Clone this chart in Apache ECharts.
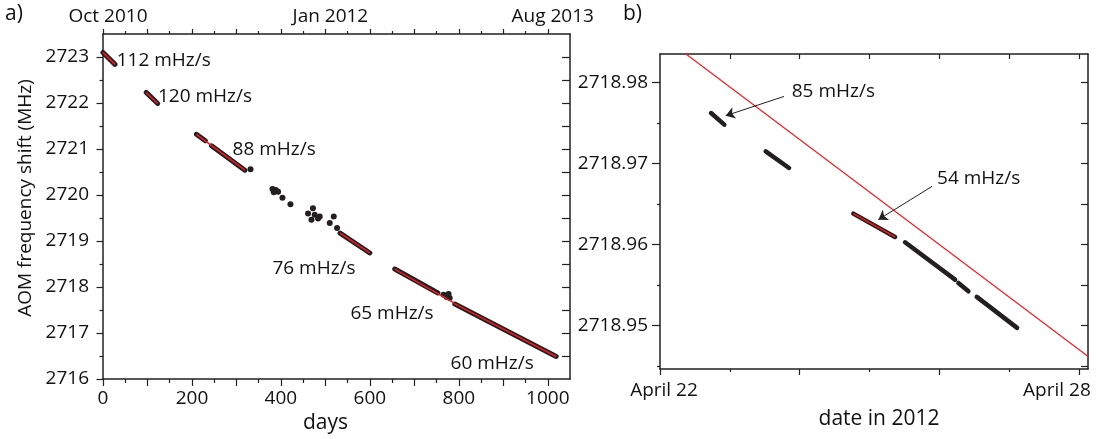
<!DOCTYPE html>
<html lang="en">
<head>
	<meta charset="UTF-8">
	<title>AOM frequency drift</title>
	<script src="https://cdn.jsdelivr.net/npm/echarts@6/dist/echarts.min.js"></script>
	<style>
		html, body{
			margin: 0;
			padding: 0;
			background: #fff;
		}
		#main{
			width: 1102px;
			height: 439px;
		}
	</style>
</head>
<body>
	<div id="main"></div>
<script>
	// ---- panel a) : whole run, days since Oct 2010 ----
	let dayTicksA = [0, 100, 200, 300, 400, 500, 600, 700, 800, 900, 1000];
	let dayMinorA = [50, 150, 250, 350, 450, 550, 650, 750, 850, 950];
	let dayLabelsA = [0, 200, 400, 600, 800, 1000];
	let topLabelDaysA = [0, 500, 1000];
	let topLabelsA = ['Oct 2010', 'Jan 2012', 'Aug 2013'];
	let freqTicksA = [2716, 2717, 2718, 2719, 2720, 2721, 2722, 2723];
	let freqMinorA = [2716.5, 2717.5, 2718.5, 2719.5, 2720.5, 2721.5, 2722.5];
	let freqAllA = [2716.5, 2717, 2717.5, 2718, 2718.5, 2719, 2719.5, 2720, 2720.5, 2721, 2721.5, 2722, 2722.5, 2723];

	// measured runs (dense points -> thick black traces)
	let runsA = [
		[[0, 2723.1], [27, 2722.84]],
		[[97, 2722.23], [123, 2721.99]],
		[[210, 2721.32], [230, 2721.18]],
		[[244, 2721.07], [319, 2720.54]],
		[[533, 2719.17], [600, 2718.74]],
		[[656, 2718.39], [753, 2717.87]],
		[[791, 2717.63], [1019, 2716.49]]
	];
	// scattered single points
	let dotsA = [
		[331.7, 2720.56],
		[381, 2720.13], [388.5, 2720.11], [384, 2720.06], [393.7, 2720.07],
		[403.5, 2719.94], [421.5, 2719.8],
		[461, 2719.6], [472, 2719.71], [476, 2719.57], [483.5, 2719.49], [468.7, 2719.46], [487.3, 2719.53],
		[509.8, 2719.39], [518.8, 2719.53], [526.2, 2719.28],
		[765.8, 2717.83], [777, 2717.85], [779.5, 2717.76], [772.5, 2717.78]
	];
	// linear fits
	let fitsA = [
		[[0, 2723.1], [27, 2722.84]],
		[[97, 2722.23], [123, 2721.99]],
		[[210, 2721.32], [319, 2720.54]],
		[[533, 2719.17], [600, 2718.74]],
		[[656, 2718.39], [790, 2717.65]],
		[[790, 2717.64], [1019, 2716.49]]
	];
	let notesA = [
		[30.8, 2722.93, '112 mHz/s'],
		[123.5, 2722.13, '120 mHz/s'],
		[291.2, 2720.98, '88 mHz/s'],
		[381, 2718.39, '76 mHz/s'],
		[556.3, 2717.42, '65 mHz/s'],
		[781.5, 2716.33, '60 mHz/s']
	];

	// ---- panel b) : days after April 22, 2012 ----
	let dayTicksB = [0, 2, 4, 6];
	let dayMinorB = [1, 3, 5];
	let dayAllB = [1, 2, 3, 4, 5, 6];
	let dateLabelDaysB = [0, 6];
	let dateLabelsB = ['April 22', 'April 28'];
	let freqTicksB = [2718.95, 2718.96, 2718.97, 2718.98];
	let freqMinorB = [2718.945, 2718.955, 2718.965, 2718.975];
	let freqAllB = [2718.945, 2718.95, 2718.955, 2718.96, 2718.965, 2718.97, 2718.975, 2718.98];

	let runsB = [
		[[0.731, 2718.97622], [0.921, 2718.97478]],
		[[1.514, 2718.97148], [1.848, 2718.96943]],
		[[2.769, 2718.96379], [3.367, 2718.96091]],
		[[3.510, 2718.96025], [4.226, 2718.95564]],
		[[4.274, 2718.95523], [4.417, 2718.95420]],
		[[4.537, 2718.95351], [5.115, 2718.94968]]
	];
	let fitB = [[2.769, 2718.96379], [3.367, 2718.96091]];
	let driftB = [[0.372, 2718.98351], [6.128, 2718.94617]];
	let arrowsB = [
		[[1.777, 2718.97827], [0.941, 2718.97589]],
		[[3.897, 2718.96716], [3.127, 2718.96305]]
	];
	let notesB = [
		[1.887, 2718.97889, '85 mHz/s'],
		[3.968, 2718.96807, '54 mHz/s']
	];

	let ink = '#231f20';
	let text = '#111';
	let red = '#ed1c24';
	let font = 'Open Sans';
	let rangeXA = [0, 1050], rangeYA = [2716, 2723.5];
	let rangeXB = [0, 6.13], rangeYB = [2718.9446, 2718.98351];

	// one axis = one set of ticks (major / minor kept on separate axes)
	function mk(grid, pos, range, ticks, len, inside, line, labels, fmt, margin){
		return {
			type: 'value',
			gridIndex: grid,
			position: pos,
			min: range[0],
			max: range[1],
			splitLine: {show: false},
			axisLine: {show: line, onZero: false, lineStyle: {color: ink, width: 1.5}},
			axisTick: {show: true, customValues: ticks, length: len, inside: inside, lineStyle: {color: ink, width: 1.2}},
			axisLabel: {
				show: !!labels,
				customValues: labels || [],
				margin: margin || 8,
				formatter: fmt,
				color: text,
				fontFamily: font,
				fontSize: 19
			}
		};
	}

	let xAxes = [
		mk(0, 'bottom', rangeXA, dayTicksA, 7, false, true, dayLabelsA, v => String(v), 10),
		mk(0, 'bottom', rangeXA, dayMinorA, 4, false, false),
		mk(0, 'top', rangeXA, dayTicksA, 5, false, true, topLabelDaysA, v => topLabelsA[topLabelDaysA.indexOf(v)], 8),
		mk(0, 'top', rangeXA, dayMinorA, 3, false, false),
		mk(1, 'bottom', rangeXB, dayTicksB, 6, false, true, dateLabelDaysB,
			v => (v === 0 ? '{l|' : '{r|') + dateLabelsB[dateLabelDaysB.indexOf(v)] + '}', 12),
		mk(1, 'bottom', rangeXB, dayMinorB, 3, false, false),
		mk(1, 'top', rangeXB, dayAllB, 5, true, true)
	];
	xAxes[0].name = 'days';
	xAxes[0].nameLocation = 'middle';
	xAxes[0].nameGap = 30;
	xAxes[0].nameTextStyle = {color: text, fontFamily: font, fontSize: 21, padding: [0, 22, 0, 0]};
	xAxes[2].axisLabel.padding = [0, 0, 0, 10];
	xAxes[4].name = 'date in 2012';
	xAxes[4].nameLocation = 'middle';
	xAxes[4].nameGap = 40;
	xAxes[4].nameTextStyle = {color: text, fontFamily: font, fontSize: 21, padding: [0, 0, 0, 10]};
	xAxes[4].axisLabel.rich = {
		l: {color: text, fontFamily: font, fontSize: 19, padding: [0, 0, 0, 8]},
		r: {color: text, fontFamily: font, fontSize: 19, padding: [0, 44, 0, 0]}
	};

	let yAxes = [
		mk(0, 'left', rangeYA, freqTicksA, 6.5, false, true, freqTicksA, v => String(v), 14),
		mk(0, 'left', rangeYA, freqMinorA, 3.5, false, false),
		mk(0, 'right', rangeYA, freqAllA, 8, true, true),
		mk(1, 'left', rangeYB, freqTicksB, 8, false, true, freqTicksB, v => v.toFixed(2), 12),
		mk(1, 'left', rangeYB, freqMinorB, 3, false, false),
		mk(1, 'right', rangeYB, freqAllB, 7, true, true)
	];
	yAxes[0].name = 'AOM frequency shift (MHz)';
	yAxes[0].nameLocation = 'middle';
	yAxes[0].nameGap = 68;
	yAxes[0].nameTextStyle = {color: text, fontFamily: font, fontSize: 19, padding: [0, 0, 0, 17]};

	let series = [];
	let onA = {xAxisIndex: 0, yAxisIndex: 0};
	let onB = {xAxisIndex: 4, yAxisIndex: 3};

	runsA.forEach(s => series.push(Object.assign({
		type: 'line', data: s, showSymbol: false, silent: true, z: 2,
		lineStyle: {color: ink, width: 5, cap: 'round'}
	}, onA)));
	series.push(Object.assign({
		type: 'scatter', data: dotsA, symbolSize: 6, silent: true, z: 2,
		itemStyle: {color: ink, opacity: 1}
	}, onA));
	fitsA.forEach(s => series.push(Object.assign({
		type: 'line', data: s, showSymbol: false, silent: true, z: 3,
		lineStyle: {color: red, width: 1.5}
	}, onA)));

	runsB.forEach(s => series.push(Object.assign({
		type: 'line', data: s, showSymbol: false, silent: true, z: 2,
		lineStyle: {color: ink, width: 4.5, cap: 'round'}
	}, onB)));
	series.push(Object.assign({
		type: 'line', data: fitB, showSymbol: false, silent: true, z: 3,
		lineStyle: {color: red, width: 1.5}
	}, onB));
	series.push(Object.assign({
		type: 'line', data: driftB, showSymbol: false, silent: true, z: 3,
		lineStyle: {color: red, width: 1.2}
	}, onB));
	series.push(Object.assign({
		type: 'lines', coordinateSystem: 'cartesian2d', silent: true, z: 4,
		data: arrowsB.map(c => ({coords: c})),
		symbol: ['none', 'arrow'],
		symbolSize: 9,
		lineStyle: {color: ink, width: 1, opacity: 1, curveness: 0}
	}, onB));

	// text notes, anchored in data space
	function notes(list, on){
		return Object.assign({
			type: 'scatter', data: list, symbolSize: 0, silent: true, z: 5,
			itemStyle: {opacity: 1},
			label: {
				show: true, position: 'right', distance: 0,
				formatter: p => p.value[2],
				color: text, opacity: 1, fontFamily: font, fontSize: 19
			}
		}, on);
	}
	series.push(notes(notesA, onA));
	series.push(notes(notesB, onB));

	let myChart = echarts.init(document.getElementById('main'));
	myChart.setOption({
		animation: false,
		backgroundColor: '#fff',
		title: [
			{text: 'a)', left: 5, top: 4, padding: 0, textStyle: {color: text, fontFamily: font, fontSize: 21, fontWeight: 'normal'}},
			{text: 'b)', left: 623, top: 4, padding: 0, textStyle: {color: text, fontFamily: font, fontSize: 21, fontWeight: 'normal'}}
		],
		grid: [
			{left: 103, top: 34, width: 467, height: 345},
			{left: 660, top: 54, width: 428, height: 315}
		],
		xAxis: xAxes,
		yAxis: yAxes,
		series: series
	});
</script>
</body>
</html>
